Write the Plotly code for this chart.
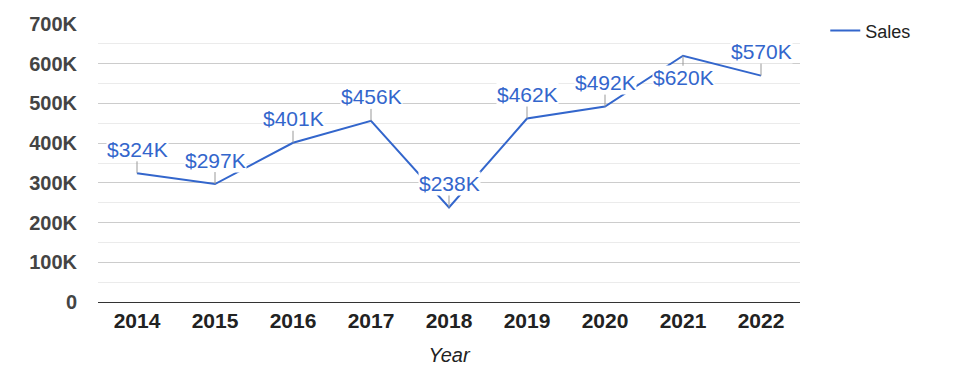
import plotly.graph_objects as go

years = ["2014", "2015", "2016", "2017", "2018", "2019", "2020", "2021", "2022"]
sales = [324000, 297000, 401000, 456000, 238000, 462000, 492000, 620000, 570000]
y_tick_vals = [0, 100000, 200000, 300000, 400000, 500000, 600000, 700000]
y_tick_text = ["0", "100K", "200K", "300K", "400K", "500K", "600K", "700K"]
labels_below = ["2021"]

FONT = "Liberation Sans, Arial, sans-serif"
BLUE = "#3366cc"

fig = go.Figure()
fig.add_trace(go.Scatter(
    x=years, y=sales, mode="lines", name="Sales",
    line=dict(color=BLUE, width=2),
))

annotations = []
for i, (yr, v) in enumerate(zip(years, sales)):
    below = yr in labels_below
    annotations.append(dict(
        x=i, y=v, xref="x", yref="y",
        text=f"${v/1000:.0f}K",
        showarrow=True, arrowhead=0, arrowwidth=1, arrowcolor="#999999",
        standoff=0, startstandoff=0,
        ax=0, ay=22 if below else -24,
        bgcolor="white", borderpad=0,
        font=dict(family=FONT, size=21, color=BLUE),
    ))

fig.update_layout(
    width=975, height=378,
    margin=dict(l=98, r=175, t=19, b=76),
    paper_bgcolor="white", plot_bgcolor="white",
    font=dict(family=FONT),
    showlegend=True,
    legend=dict(
        x=1.036, y=1.042, xanchor="left", yanchor="top",
        font=dict(family=FONT, size=18, color="#222222"),
        bgcolor="rgba(0,0,0,0)",
    ),
    annotations=annotations,
    xaxis=dict(
        type="category", categoryorder="array", categoryarray=years,
        range=[-0.5, len(years) - 0.5],
        showgrid=False, showline=True, linecolor="#333333", linewidth=1,
        ticks="", tickfont=dict(family=FONT, size=21, color="#222222", weight="bold"),
        title=dict(text="Year", font=dict(family=FONT, size=20, color="#222222", style="italic"), standoff=16),
    ),
    yaxis=dict(
        range=[0, 700000],
        tickvals=y_tick_vals, ticktext=y_tick_text,
        showgrid=True, gridcolor="#cccccc", gridwidth=1,
        minor=dict(dtick=50000, showgrid=True, gridcolor="#ebebeb", gridwidth=1),
        zeroline=False, showline=False, ticks="",
        ticklabelstandoff=20,
        tickfont=dict(family=FONT, size=20, color="#444444", weight="bold"),
    ),
)

fig.write_html("out.html", config={"displayModeBar": False},
               post_script="document.body.style.margin='0';")
